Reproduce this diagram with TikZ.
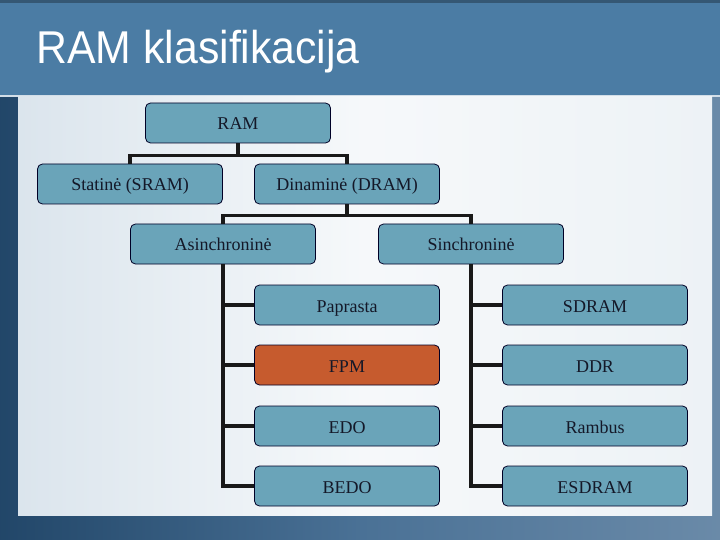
\documentclass[tikz,border=0pt]{standalone}
\usepackage{fontspec}
\setmainfont{Liberation Serif}
\newfontfamily\titlefont{Liberation Sans}
\begin{document}
\begin{tikzpicture}[x=1pt,y=1pt,
  box/.style={draw=black!85!blue, line width=0.8pt, rounded corners=5pt, fill=boxfill,
    minimum width=185pt, minimum height=40pt, inner sep=0pt, text height=14pt, text depth=0pt,
    font=\fontsize{18}{20}\selectfont, text=textc, anchor=center},
  hot/.style={box, fill=hotfill},
  conn/.style={line width=3.2pt, black!90}]
\definecolor{boxfill}{HTML}{6AA4B9}
\definecolor{hotfill}{HTML}{C65B2E}
\definecolor{textc}{HTML}{141828}
\definecolor{frame}{HTML}{2A5883}
\definecolor{header}{HTML}{4B7CA4}
\useasboundingbox (0,0) rectangle (720,-540);
% background frame
\shade[left color=frame!80!black, right color=frame!70!white, middle color=frame!85!white] (0,0) rectangle (720,-540);
\fill[header] (0,-3) rectangle (720,-95);
\fill[header!70!black] (0,0) rectangle (720,-3);
\fill[white!75!header] (0,-95) rectangle (720,-97);
\shade[left color=white!80!header, right color=white!90!header, middle color=white!95!header] (18,-97) rectangle (712,-515);
\node[anchor=west, text=white, font=\titlefont\fontsize{46}{50}\selectfont] (title) at (33,-52) {\scalebox{0.93}[1]{RAM klasifikacija}};
% nodes
\node[box] (ram) at (238,-123) {RAM};
\node[box] (sram) at (130,-184) {Statinė (SRAM)};
\node[box] (dram) at (347,-184) {Dinaminė (DRAM)};
\node[box] (asin) at (223,-244) {Asinchroninė};
\node[box] (sin) at (471,-244) {Sinchroninė};
\node[box] (pap) at (347,-305) {Paprasta};
\node[hot] (fpm) at (347,-365) {FPM};
\node[box] (edo) at (347,-426) {EDO};
\node[box] (bedo) at (347,-486) {BEDO};
\node[box] (sdram) at (595,-305) {SDRAM};
\node[box] (ddr) at (595,-365) {DDR};
\node[box] (ramb) at (595,-426) {Rambus};
\node[box] (esd) at (595,-486) {ESDRAM};
% connectors
\draw[conn] (ram.south) -- ++(0,-12) -| (sram.north);
\draw[conn] (ram.south) ++(0,-12) -| (dram.north);
\draw[conn] (dram.south) -- ++(0,-11) -| (asin.north);
\draw[conn] (dram.south) ++(0,-11) -| (sin.north);
\draw[conn] (asin.south) |- (pap.west);
\draw[conn] (asin.south) |- (fpm.west);
\draw[conn] (asin.south) |- (edo.west);
\draw[conn] (asin.south) |- (bedo.west);
\draw[conn] (sin.south) |- (sdram.west);
\draw[conn] (sin.south) |- (ddr.west);
\draw[conn] (sin.south) |- (ramb.west);
\draw[conn] (sin.south) |- (esd.west);
\end{tikzpicture}
\end{document}
